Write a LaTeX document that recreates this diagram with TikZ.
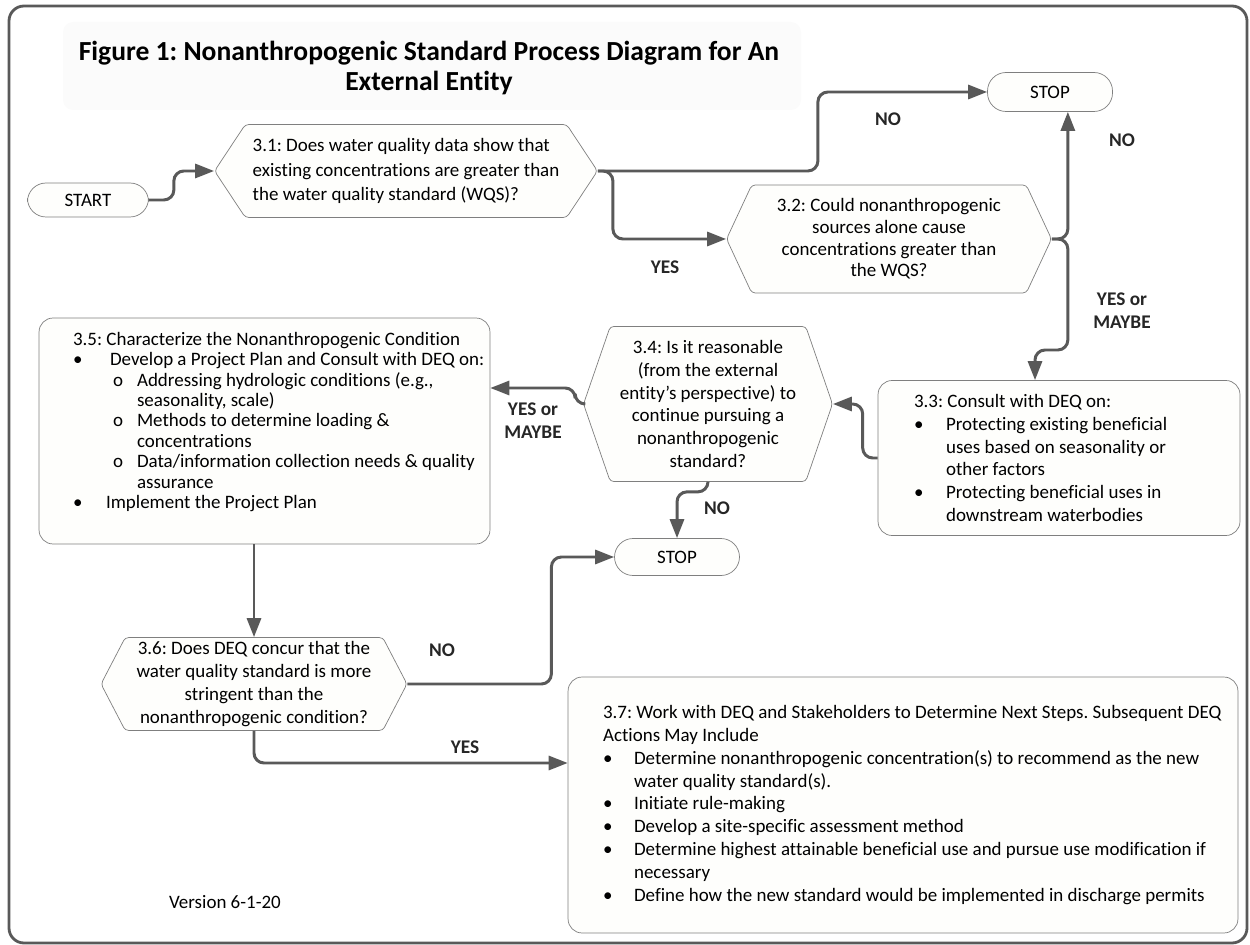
\documentclass[tikz,border=0pt]{standalone}
\usepackage{fontspec}
\setmainfont{Carlito}[Ligatures=CommonOff]
\usetikzlibrary{shapes.symbols,arrows.meta,calc}
\definecolor{flowgray}{HTML}{595959}
\definecolor{edgegray}{HTML}{7F7F7F}
\definecolor{boxfill}{HTML}{FEFEFC}
\frenchspacing
\newcommand{\bitem}[2]{\makebox[#1][l]{\textbullet}#2}
\newcommand{\oitem}[1]{\hspace*{0.8cm}\makebox[0.48cm][l]{o}#1}
\tikzset{
  term/.style={draw=edgegray, fill=boxfill, rounded corners=0.37cm, minimum width=2.5cm, minimum height=0.74cm, font=\fontsize{10.8}{12}\selectfont},
  decision/.style={shape=signal, signal to=east and west, draw=edgegray, fill=boxfill, rounded corners=2pt, inner sep=0pt, align=center},
  stepbox/.style={draw=edgegray, fill=boxfill, rounded corners=0.28cm},
  boxtext/.style={align=left, anchor=west, inner sep=0pt},
  flow/.style={draw=flowgray, line width=1.7pt, rounded corners=0.2cm, -{Triangle[length=0.38cm,width=0.28cm]}},
  lbl/.style={font=\fontsize{11}{13}\selectfont\bfseries, align=center, text=black!85}
}
\begin{document}
\begin{tikzpicture}[x=0.02cm, y=-0.02cm, font=\fontsize{10.8}{13}\selectfont]
  \useasboundingbox (0,0) rectangle (1250,945);
  \draw[flowgray, line width=1.6pt, rounded corners=0.3cm] (9,6) rectangle (1247,943);
  \fill[black!1.5, rounded corners=0.2cm] (63,22) rectangle (801,110);
  \node[font=\fontsize{15.7}{17}\selectfont\bfseries, align=center] (title) at (429,68)
    {Figure 1: Nonanthropogenic Standard Process Diagram for An\\External Entity};

  \node[term, minimum width=2.42cm, minimum height=0.68cm] (start) at (88,200) {START};
  \node[term, minimum height=0.78cm] (stopA) at (1050,92) {STOP};
  \node[term] (stopB) at (677,557) {STOP};

  \node[decision, align=left, font=\fontsize{10.8}{13.9}\selectfont, signal pointer angle=113,
    minimum width=7.66cm, minimum height=1.86cm] (q31) at (406,171)
    {3.1: Does water quality data show that\\existing concentrations are greater than\\the water quality standard (WQS)?};
  \node[decision, font=\fontsize{10.8}{12.3}\selectfont, signal pointer angle=130,
    minimum width=6.5cm, minimum height=2.16cm] (q32) at (889,239)
    {3.2: Could nonanthropogenic\\sources alone cause\\concentrations greater than\\the WQS?};
  \node[decision, signal pointer angle=142, minimum width=4.98cm, minimum height=3.1cm] (q34) at (708,404)
    {3.4: Is it reasonable\\(from the external\\entity’s perspective) to\\continue pursuing a\\nonanthropogenic\\standard?};
  \node[decision, signal pointer angle=125, minimum width=6.12cm, minimum height=1.86cm] (q36) at (254,684)
    {3.6: Does DEQ concur that the\\water quality standard is more\\stringent than the\\nonanthropogenic condition?};

  \node[stepbox, minimum width=7.24cm, minimum height=3.1cm] (s33) at (1059,458) {};
  \node[boxtext] (s33txt) at ($(s33.west)+(36,0)$)
    {3.3: Consult with DEQ on:\\
     \bitem{0.64cm}{Protecting existing beneficial}\\
     \hspace*{0.64cm}uses based on seasonality or\\
     \hspace*{0.64cm}other factors\\
     \bitem{0.64cm}{Protecting beneficial uses in}\\
     \hspace*{0.64cm}downstream waterbodies};

  \node[stepbox, minimum width=9.02cm, minimum height=4.52cm] (s35) at (264.5,431) {};
  \node[boxtext, font=\fontsize{10.8}{11.6}\selectfont] (s35txt) at ($(s35.west)+(34,-9)$)
    {3.5: Characterize the Nonanthropogenic Condition\\
     \bitem{0.74cm}{Develop a Project Plan and Consult with DEQ on:}\\
     \oitem{Addressing hydrologic conditions (e.g.,}\\
     \hspace*{1.28cm}seasonality, scale)\\
     \oitem{Methods to determine loading \&}\\
     \hspace*{1.28cm}concentrations\\
     \oitem{Data/information collection needs \& quality}\\
     \hspace*{1.28cm}assurance\\
     \bitem{0.66cm}{Implement the Project Plan}};

  \node[stepbox, minimum width=13.4cm, minimum height=5.12cm] (s37) at (903,805) {};
  \node[boxtext] (s37txt) at ($(s37.west)+(35,0)$)
    {3.7: Work with DEQ and Stakeholders to Determine Next Steps. Subsequent DEQ\\
     Actions May Include\\
     \bitem{0.62cm}{Determine nonanthropogenic concentration(s) to recommend as the new}\\
     \hspace*{0.62cm}water quality standard(s).\\
     \bitem{0.62cm}{Initiate rule-making}\\
     \bitem{0.62cm}{Develop a site-specific assessment method}\\
     \bitem{0.62cm}{Determine highest attainable beneficial use and pursue use modification if}\\
     \hspace*{0.62cm}necessary\\
     \bitem{0.62cm}{Define how the new standard would be implemented in discharge permits}};

  \coordinate (j32) at ($(q32.east)+(16,0)$);
  \draw[flow] (start.east) -- ++(25,0) |- (q31.west);
  \draw[flow] (q31.east) -- ++(220,0) |- (stopA.west);
  \draw[flow] (q31.east) -- ++(15,0) |- (q32.west);
  \draw[flow] (q32.east) -- (j32) -- (j32 |- stopA.south);
  \draw[flow] (q32.east) -- (j32) -- ++(0,111) -| ($(s33.north)+(-24,0)$);
  \draw[flow] (s33.west) -- ++(-15,0) |- (q34.east);
  \draw[flow] (q34.west) -- ++(-8,0) |- ($(s35.east)+(0,-43)$);
  \draw[flow] (q34.south) -- ++(0,10) -| (stopB.north);
  \draw[flow] (s35.south -| q36.north) -- (q36.north);
  \draw[flow] (q36.east) -- ++(144,0) |- (stopB.west);
  \draw[flow] (q36.south) |- ($(s37.west)+(0,-42)$);

  \node[lbl] (noA) at (888,119) {NO};
  \node[lbl] (yesA) at (665,267) {YES};
  \node[lbl] (noB) at (1122,140) {NO};
  \node[lbl] (yesB) at (1122,311) {YES or\\MAYBE};
  \node[lbl] (yesC) at (533,421) {YES or\\MAYBE};
  \node[lbl] (noC) at (717,508) {NO};
  \node[lbl] (noD) at (442,650) {NO};
  \node[lbl] (yesD) at (465,747) {YES};
  \node (version) at (225,902) {Version 6-1-20};
\end{tikzpicture}
\end{document}
